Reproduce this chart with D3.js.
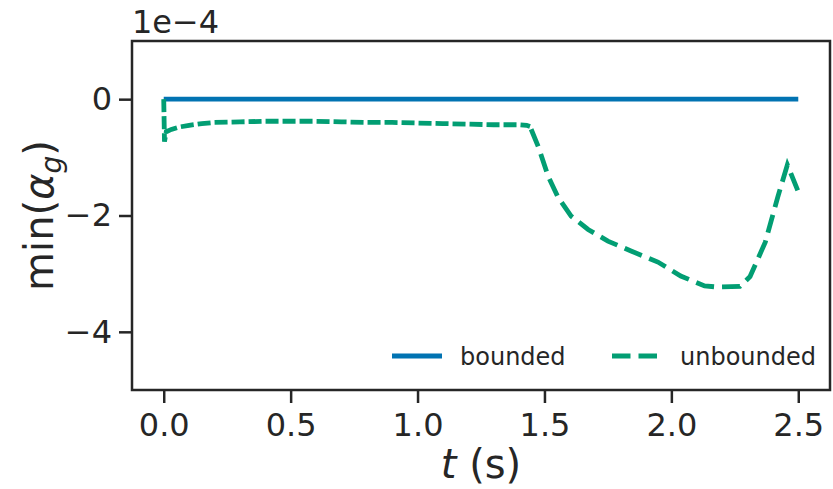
<!DOCTYPE html>
<html>
<head>
<meta charset="utf-8">
<script src="https://cdn.jsdelivr.net/npm/d3@7"></script>
<style>
body { margin: 0; background: #fff; }
text { font-family: "DejaVu Sans", sans-serif; fill: #262626; }
</style>
</head>
<body>
<script>
// data (values in units of 1e-4)
var tBounded = [0, 0.5, 1.0, 1.5, 2.0, 2.5];
var vBounded = [0, 0, 0, 0, 0, 0];

var tUnbounded = [0, 0.003, 0.01, 0.03, 0.06, 0.1, 0.15, 0.2, 0.3, 0.4,
    0.5, 0.6, 0.7, 0.8, 0.9, 1.0, 1.1, 1.2, 1.3, 1.4, 1.43, 1.443, 1.476,
    1.515, 1.554, 1.605, 1.672, 1.75, 1.841, 1.947, 2.037, 2.131, 2.18,
    2.27, 2.31, 2.37, 2.42, 2.457, 2.5];
var vUnbounded = [0, -0.73, -0.56, -0.52, -0.48, -0.45, -0.42, -0.40,
    -0.39, -0.38, -0.38, -0.38, -0.39, -0.40, -0.40, -0.41, -0.42, -0.43,
    -0.44, -0.44, -0.45, -0.47, -0.82, -1.33, -1.69, -2.01, -2.24, -2.44,
    -2.61, -2.80, -3.04, -3.21, -3.23, -3.22, -3.05, -2.46, -1.67, -1.13,
    -1.59];

var xTicks = [0, 0.5, 1.0, 1.5, 2.0, 2.5];
var yTicks = [0, -2, -4];
var seriesNames = ["bounded", "unbounded"];
var colors = ["#0173b2", "#029e73"];

var W = 833, H = 489;
var margin = {left: 132, right: 3, top: 41, bottom: 99};
var width = W - margin.left - margin.right,
    height = H - margin.top - margin.bottom;
var lw = 4.8;

var svg = d3.select("body").append("svg")
    .attr("width", W)
    .attr("height", H);

var g = svg.append("g")
    .attr("transform", "translate(" + margin.left + "," + margin.top + ")");

var x = d3.scaleLinear().domain([-0.125, 2.625]).range([0, width]);
var y = d3.scaleLinear().domain([-5, 1]).range([height, 0]);

// axes
var xAxis = g.append("g")
    .attr("transform", "translate(0," + height + ")")
    .call(d3.axisBottom(x).tickValues(xTicks)
        .tickFormat(d3.format(".1f")).tickSize(13).tickPadding(10));
var yAxis = g.append("g")
    .call(d3.axisLeft(y).tickValues(yTicks)
        .tickFormat(function(d) { return d === 0 ? "0" : "\u2212" + Math.abs(d); })
        .tickSize(13).tickPadding(7));

[xAxis, yAxis].forEach(function(a) {
    a.select(".domain").remove();
    a.selectAll(".tick line").attr("stroke", "#262626").attr("stroke-width", 2.5);
    a.selectAll(".tick text").style("font-size", "32px")
        .style("font-family", "DejaVu Sans").attr("fill", "#262626");
});

// lines
var line = d3.line()
    .x(function(d) { return x(d[0]); })
    .y(function(d) { return y(d[1]); });

g.append("path")
    .datum(tBounded.map(function(t, i) { return [t, vBounded[i]]; }))
    .attr("d", line)
    .attr("fill", "none")
    .attr("stroke", colors[0])
    .attr("stroke-width", lw);

var unb = tUnbounded.map(function(t, i) { return [t, vUnbounded[i]]; });
var kink = tUnbounded.indexOf(1.443);
// the flat noisy part shows shorter dashes than the smooth drop
g.append("path")
    .datum(unb.slice(0, kink + 1))
    .attr("d", line)
    .attr("fill", "none")
    .attr("stroke", colors[1])
    .attr("stroke-width", lw)
    .attr("stroke-dasharray", "13,4");
g.append("path")
    .datum(unb.slice(kink))
    .attr("d", line)
    .attr("fill", "none")
    .attr("stroke", colors[1])
    .attr("stroke-width", lw)
    .attr("stroke-dasharray", "18.5,8")
    .attr("stroke-dashoffset", -3);

// frame
g.append("rect")
    .attr("width", width).attr("height", height)
    .attr("fill", "none")
    .attr("stroke", "#262626")
    .attr("stroke-width", 2.5);

// offset text
svg.append("text")
    .attr("x", 132).attr("y", 33)
    .style("font-size", "32px")
    .text("1e\u22124");

// axis labels
svg.append("text")
    .attr("x", x(1.25) + margin.left).attr("y", 478)
    .attr("text-anchor", "middle")
    .style("font-size", "40px")
    .html('<tspan font-style="italic">t</tspan> (s)');

var yl = svg.append("text")
    .attr("transform", "translate(53," + (margin.top + y(-2)) + ") rotate(-90)")
    .attr("text-anchor", "middle")
    .style("font-size", "40px");
yl.append("tspan").text("min(");
yl.append("tspan").attr("font-style", "italic").text("\u03b1");
yl.append("tspan").attr("font-style", "italic").attr("font-size", "28px")
    .attr("dy", 8).text("g");
yl.append("tspan").attr("dy", -8).text(")");

// legend
var legend = svg.append("g");
var legX = [392, 612];
seriesNames.forEach(function(name, i) {
    var lg = legend.append("g");
    lg.append("line")
        .attr("x1", legX[i]).attr("x2", legX[i] + 50)
        .attr("y1", 356).attr("y2", 356)
        .attr("stroke", colors[i])
        .attr("stroke-width", lw)
        .attr("stroke-dasharray", i === 1 ? "18.5,8" : null);
    lg.append("text")
        .attr("x", legX[i] + 68).attr("y", 365)
        .style("font-size", "24px")
        .text(name);
});
</script>
</body>
</html>
